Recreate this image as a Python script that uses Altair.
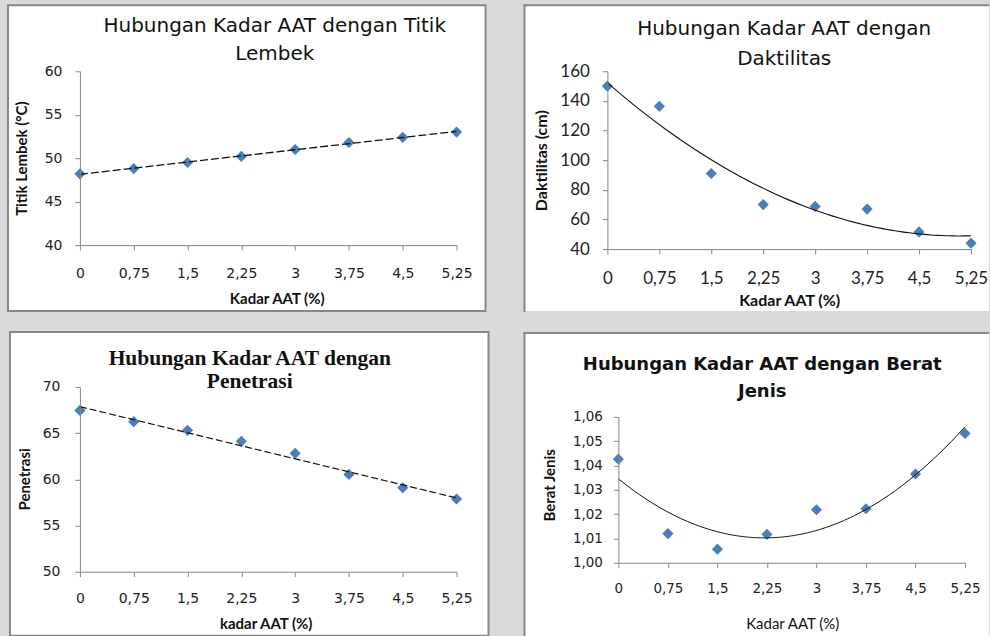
import altair as alt
import pandas as pd

# ---- data ----
kadar = [0, 0.75, 1.5, 2.25, 3, 3.75, 4.5, 5.25]
titik_lembek = [48.2, 48.8, 49.5, 50.2, 51.0, 51.8, 52.4, 53.0]
daktilitas = [150, 136.3, 91, 70, 68.8, 67, 51.6, 44]
penetrasi = [67.46, 66.24, 65.30, 64.11, 62.81, 60.53, 59.09, 57.87]
berat_jenis = [1.0426, 1.0120, 1.0056, 1.0117, 1.0218, 1.0222, 1.0365, 1.0532]

tick_lembek = [40, 45, 50, 55, 60]
tick_daktil = [40, 60, 80, 100, 120, 140, 160]
tick_penet = [50, 55, 60, 65, 70]
tick_berat = [1.00, 1.01, 1.02, 1.03, 1.04, 1.05, 1.06]

BLUE = "#4A7EBB"
GRAY = "#888888"
AXC = "#868686"
X_EXPR = "replace(toString(datum.value), '.', ',')"
one = pd.DataFrame({"k": [0]})


def box(x1, x2, y1, y2):
    return alt.Chart(one).mark_rect(fill="white", stroke=GRAY, strokeWidth=2).encode(
        x=alt.value(x1), x2=alt.value(x2), y=alt.value(y1), y2=alt.value(y2))


def open_box(x1, x2, y1, y2):
    fill = alt.Chart(one).mark_rect(fill="white").encode(
        x=alt.value(x1), x2=alt.value(x2), y=alt.value(y1), y2=alt.value(y2))
    left = alt.Chart(one).mark_rule(color=GRAY, strokeWidth=2, strokeCap="square").encode(
        x=alt.value(x1), y=alt.value(y1), y2=alt.value(y2))
    top = alt.Chart(one).mark_rule(color=GRAY, strokeWidth=2, strokeCap="square").encode(
        x=alt.value(x1), x2=alt.value(x2 - 1), y=alt.value(y1))
    return [fill, left, top]


def title_text(lines, x, y, font, size, weight, lh):
    return alt.Chart(one).mark_text(
        align="center", baseline="alphabetic", font=font, fontSize=size,
        fontWeight=weight, lineHeight=lh, color="#111111").encode(
        x=alt.value(x), y=alt.value(y), text=alt.value(lines))


def panel(values, w, h, ydom, xaxis, yaxis, method, dash, lw, frame, title):
    df = pd.DataFrame({"x": kadar, "y": values})
    xs = alt.Scale(domain=[0, 5.25], nice=False, zero=False)
    ys = alt.Scale(domain=ydom, nice=False, zero=False)
    base = alt.Chart(df)
    enc = dict(x=alt.X("x:Q", scale=xs, axis=xaxis),
               y=alt.Y("y:Q", scale=ys, axis=yaxis))
    pts = base.mark_point(shape="diamond", filled=True, size=125, color=BLUE,
                          opacity=1).encode(**enc)
    if method == "linear":
        tr = base.transform_regression("x", "y", method="linear", extent=[0, 5.25])
    else:
        tr = base.transform_regression("x", "y", method="poly", order=2, extent=[0, 5.25])
    line_kw = dict(color="#111111", strokeWidth=lw)
    if dash:
        line_kw["strokeDash"] = dash
    trend = tr.mark_line(**line_kw).encode(**enc)
    layers = list(frame) + [pts, trend, title]
    return alt.layer(*layers).properties(width=w, height=h)


def xax(font, size, pad, title, tfont, tsize, tweight, tx, ty):
    return alt.Axis(values=kadar, labelExpr=X_EXPR, title=title, grid=False,
                    domainColor=AXC, tickColor=AXC, tickSize=5, zindex=1,
                    labelFont=font, labelFontSize=size, labelPadding=pad,
                    labelBaseline="middle", labelColor="#222222", labelFlush=False,
                    labelOverlap=False,
                    titleFont=tfont, titleFontSize=tsize, titleFontWeight=tweight,
                    titleColor="#111111", titleX=tx, titleY=ty,
                    titleBaseline="middle", titleAlign="center")


def yax(vals, expr, font, size, pad, title, tfont, tsize, tweight, tx, ty):
    kw = dict(values=vals, title=title, grid=False, domainColor=AXC, tickColor=AXC,
              tickSize=5, zindex=1, labelFont=font, labelFontSize=size,
              labelPadding=pad, labelColor="#222222", labelFlush=False,
              labelOverlap=False,
              titleFont=tfont, titleFontSize=tsize, titleFontWeight=tweight,
              titleColor="#111111", titleX=tx, titleY=ty, titleAngle=270,
              titleBaseline="middle", titleAlign="center")
    if expr:
        kw["labelExpr"] = expr
    return alt.Axis(**kw)


BJ_EXPR = "replace(format(datum.value, '.2f'), '.', ',')"

# Panel 1 : Titik Lembek
p1 = panel(
    titik_lembek, 377, 174, [40, 60],
    xax("DejaVu Sans", 14, 23, "Kadar AAT (%)", "Lato", 15, "bold", 197, 53),
    yax(tick_lembek, None, "DejaVu Sans", 14, 13, "Titik Lembek (°C)", "Lato", 15,
        "bold", -58, 87),
    "linear", [8, 3], 1.3,
    [box(-72, 406, -66, 240)],
    title_text(["Hubungan Kadar AAT dengan Titik", "Lembek"], 195, -39,
               "DejaVu Sans", 20, "normal", 27.5),
)

# Panel 2 : Daktilitas
p2 = panel(
    daktilitas, 364, 178, [40, 160],
    xax("Lato", 17, 24, "Kadar AAT (%)", "Lato", 16, "bold", 182, 51),
    yax(tick_daktil, None, "Lato", 17, 13, "Daktilitas (cm)", "Lato", 16, "bold",
        -66, 89),
    "poly", None, 1.1,
    open_box(-83, 382, -66, 240),
    title_text(["Hubungan Kadar AAT dengan", "Daktilitas"], 177, -36,
               "DejaVu Sans", 20, "normal", 29.5),
)

# Panel 3 : Penetrasi
p3 = panel(
    penetrasi, 377, 185, [50, 70],
    xax("DejaVu Sans", 14, 22, "kadar AAT (%)", "Lato", 15, "bold", 186, 52),
    yax(tick_penet, None, "DejaVu Sans", 14, 15, "Penetrasi", "Lato", 15, "bold",
        -55, 92),
    "linear", [7, 3], 1.2,
    [box(-70, 409, -55, 249)],
    title_text(["Hubungan Kadar AAT  dengan", "Penetrasi"], 170, -22,
               "Liberation Serif", 21.5, "bold", 22.7),
)

# Panel 4 : Berat Jenis
p4 = panel(
    berat_jenis, 347, 146, [1.0, 1.06],
    xax("DejaVu Sans", 13.5, 21, "Kadar AAT (%)", "Lato", 15, "normal", 174, 61),
    yax(tick_berat, BJ_EXPR, "DejaVu Sans", 13.5, 11, "Berat Jenis", "Lato", 15,
        "bold", -69, 68),
    "poly", None, 1.0,
    open_box(-94, 371, -84, 221),
    title_text(["Hubungan Kadar AAT dengan Berat", "Jenis"], 144, -47,
               "DejaVu Sans", 18, "bold", 26.7),
)

chart = alt.concat(
    p1, p2, p3, p4, columns=2, align="none", bounds="full",
    spacing={"row": 18, "column": 33},
).properties(
    background="#d9d9d9",
    padding={"left": 7, "top": 3, "right": 0, "bottom": 0},
).configure_view(strokeWidth=0)

chart.save("out.html", embed_options={"renderer": "svg", "actions": False})
